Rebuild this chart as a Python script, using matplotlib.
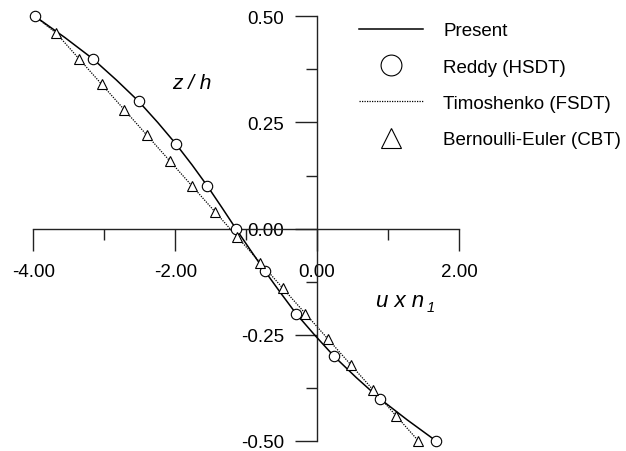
import matplotlib
matplotlib.use("Agg")
import matplotlib.pyplot as plt
from matplotlib.ticker import MultipleLocator, FormatStrFormatter

plt.rcParams['font.family'] = ['Liberation Sans', 'DejaVu Sans']
plt.rcParams['axes.unicode_minus'] = False

# Present (solid line)
present_u = [-3.976, -3.555, -3.162, -2.829, -2.516, -2.246, -1.993, -1.762, -1.545, -1.343, -1.145,
             -0.942, -0.735, -0.520, -0.297, -0.037, 0.236, 0.548, 0.881, 1.268, 1.678]
present_z = [0.50, 0.45, 0.40, 0.35, 0.30, 0.25, 0.20, 0.15, 0.10, 0.05, 0.00,
             -0.05, -0.10, -0.15, -0.20, -0.25, -0.30, -0.35, -0.40, -0.45, -0.50]

# Reddy (HSDT) circles
reddy_u = [-3.976, -3.162, -2.516, -1.993, -1.545, -1.145, -0.735, -0.297, 0.236, 0.881, 1.678]
reddy_z = [0.50, 0.40, 0.30, 0.20, 0.10, 0.00, -0.10, -0.20, -0.30, -0.40, -0.50]

# Timoshenko (FSDT) dotted line
timo_u = [-3.976, -3.675, -1.228, 1.429]
timo_z = [0.50, 0.46, 0.00, -0.50]

# Bernoulli-Euler (CBT) triangles
cbt_u = [-3.675, -3.356, -3.037, -2.718, -2.399, -2.080, -1.761, -1.442, -1.123,
         -0.804, -0.485, -0.166, 0.153, 0.472, 0.791, 1.110, 1.429]
cbt_z = [0.46, 0.40, 0.34, 0.28, 0.22, 0.16, 0.10, 0.04, -0.02,
         -0.08, -0.14, -0.20, -0.26, -0.32, -0.38, -0.44, -0.50]

labels = ["Present", "Reddy (HSDT)", "Timoshenko (FSDT)", "Bernoulli-Euler (CBT)"]

W, H = 626, 452
fig = plt.figure(figsize=(W / 100, H / 100), dpi=100)
ax = fig.add_axes([33.3 / W, 1 - 442 / H, (459 - 33.3) / W, (442 - 17.3) / H])

ax.plot(present_u, present_z, color='black', lw=1.1, label=labels[0], clip_on=False, zorder=3)
ax.plot(reddy_u, reddy_z, ls='none', marker='o', ms=7.5, mfc='white', mec='black', mew=0.8,
        label=labels[1], clip_on=False, zorder=4)
ax.plot(timo_u, timo_z, color='black', lw=0.9, ls=(0, (1, 1)), label=labels[2], clip_on=False, zorder=2)
ax.plot(cbt_u, cbt_z, ls='none', marker='^', ms=7, mfc='white', mec='black', mew=0.8,
        label=labels[3], clip_on=False, zorder=4)

ax.set_xlim(-4, 2)
ax.set_ylim(-0.5, 0.5)

for s in ['top', 'right']:
    ax.spines[s].set_visible(False)
ax.spines['left'].set_position(('data', 0))
ax.spines['bottom'].set_position(('data', 0))
for s in ['left', 'bottom']:
    ax.spines[s].set_linewidth(1.0)
    ax.spines[s].set_color('#222222')

ax.xaxis.set_major_locator(MultipleLocator(2))
ax.xaxis.set_minor_locator(MultipleLocator(1))
ax.yaxis.set_major_locator(MultipleLocator(0.25))
ax.yaxis.set_minor_locator(MultipleLocator(0.125))
ax.xaxis.set_major_formatter(FormatStrFormatter('%.2f'))
ax.yaxis.set_major_formatter(FormatStrFormatter('%.2f'))
ax.tick_params(axis='both', which='major', length=15.5, width=1.0, color='#222222',
               labelsize=13.5, direction='out')
ax.tick_params(axis='both', which='minor', length=8, width=1.0, color='#222222', direction='out')
ax.tick_params(axis='x', which='major', pad=9)
ax.tick_params(axis='y', which='major', pad=8)
ax.patch.set_visible(False)

# axis titles (italic), positioned in pixels
fig.text(172 / W, 1 - 89 / H, 'z / h', fontsize=15, fontstyle='italic', ha='left', va='baseline')
t = fig.text(376 / W, 1 - 307 / H, 'u x n', fontsize=16, fontstyle='italic', ha='left', va='baseline')
fig.canvas.draw()
bb = t.get_window_extent()
fig.text((bb.x1 + 3) / W, 1 - 312 / H, '1', fontsize=10.5, fontstyle='italic', ha='left', va='baseline')

leg = ax.legend(loc='upper left', bbox_to_anchor=(359 / W, 1 - 23 / H), bbox_transform=fig.transFigure,
                frameon=False, fontsize=13.5, handlelength=3.4, handletextpad=1.1,
                labelspacing=1.03, borderpad=0, borderaxespad=0, markerscale=2)

fig.savefig('out.png', dpi=100)
